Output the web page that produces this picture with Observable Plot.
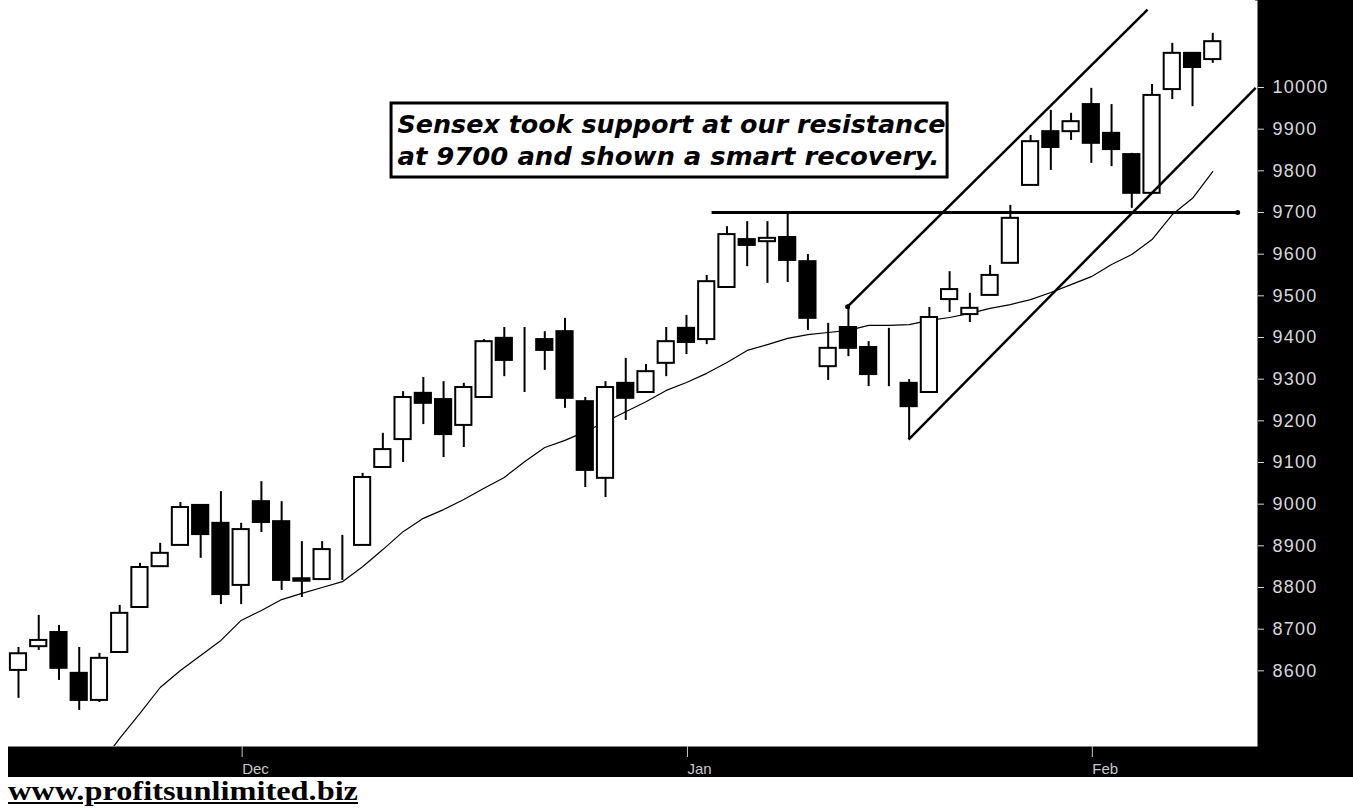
<!DOCTYPE html>
<html><head><meta charset="utf-8">
<script src="https://cdn.jsdelivr.net/npm/d3@7"></script>
<script src="https://cdn.jsdelivr.net/npm/@observablehq/plot@0.6"></script>
<style>
body{margin:0;background:#fff;width:1353px;height:811px;overflow:hidden;position:relative}
#panelR{position:absolute;left:1255px;top:0;width:98px;height:777px;background:#000}
#panelB{position:absolute;left:8px;top:745px;width:1345px;height:32px;background:#000}
#chart{position:absolute;left:0;top:0}
#footer{position:absolute;left:8px;top:777px;font:bold 28px "Liberation Serif",serif;line-height:28px;text-decoration:underline;color:#000;white-space:nowrap;transform-origin:left top}
</style></head>
<body><div id="panelR"></div><div id="panelB"></div><div id="chart"></div><div id="footer">www.profitsunlimited.biz</div>
<script>
// Daily Sensex candles (index = trading day)
const openV  = [8601,8658,8692,8594,8529,8644,8752,8850,8901,8997,8954,8805,9006,8958,8821,8819,8906,8901,9088,9155,
                9266,9251,9189,9256,9398,9345,9395,9414,9246,9062,9290,9268,9338,9422,9395,9520,9635,9630,9640,9582,
                9330,9424,9376,null,9290,9268,9491,9455,9501,9578,9765,9894,9894,9959,9890,9839,9746,9995,10082,10067];
const closeV = [8641,8673,8606,8529,8630,8738,8848,8882,8992,8927,8783,8939,8956,8817,8815,8891,8906,9064,9131,9256,
                9242,9167,9280,9390,9345,9345,9369,9254,9081,9280,9254,9318,9390,9388,9534,9647,9621,9638,9585,9446,
                9374,9374,9311,null,9234,9448,9515,9470,9549,9686,9870,9856,9918,9866,9851,9746,9981,10082,10048,10110];
const highV  = [8656,8733,8709,8656,8642,8757,8858,8906,9004,8997,9030,8954,9054,9006,8910,8910,8925,9074,9170,9270,
                9304,9294,9290,9395,9424,9424,9414,9446,9256,9294,9350,9335,9424,9453,9549,9666,9678,9678,9698,9599,
                9434,9474,9390,9422,9299,9472,9558,9506,9573,9717,9885,9945,9938,9998,9959,9842,10007,10106,10082,10130];
const lowV   = [8534,8649,8577,8505,8524,8644,8752,8850,8901,8870,8759,8759,8932,8793,8776,8819,8817,8901,9088,9100,
                9191,9112,9136,9256,9306,9268,9321,9230,9040,9016,9201,9268,9306,9359,9383,9520,9570,9530,9532,9417,
                9297,9354,9282,9282,9155,9268,9460,9436,9501,9578,9765,9801,9873,9818,9810,9710,9746,9971,9954,10058];
// moving average, starting at day index maStart
const maStart = 4;
const maV = [8373,8438,8498,8560,8601,8637,8673,8721,8745,8771,8786,8800,8814,8850,8891,8934,8966,8987,9011,9038,
             9064,9102,9136,9153,9174,9198,9222,9246,9273,9292,9314,9340,9369,9383,9398,9407,9412,9417,9429,9429,
             9431,9441,9448,9458,9470,9479,9491,9508,9527,9546,9575,9599,9635,9695,9734,9798];
const yTicks = [8600,8700,8800,8900,9000,9100,9200,9300,9400,9500,9600,9700,9800,9900,10000];
const monthIdx = [11,33,53];
const monthLabels = ["Dec","Jan","Feb"];
const resistance = [{x1:34.24, x2:60.23, level:9700}];
const channel = [
  {x1:40.96, y1:9474, x2:55.78, y2:10187},
  {x1:43.97, y1:9155, x2:61.12, y2:9999}
];
const lineDots = [{x:60.23, y:9700},{x:40.96, y:9474}];
const noteLines = ["Sensex took support at our resistance","at 9700 and shown a smart recovery."];
const noteY = [9909, 9832];
const noteBox = [{x1:18.43, x2:45.9, y1:9784, y2:9961.6}];

const candles = openV.map((o,i)=>({i, open:o, close:closeV[i], high:highV[i], low:lowV[i]}));
const up = candles.filter(d=>d.open!=null && d.close>=d.open);
const down = candles.filter(d=>d.open!=null && d.close<d.open);
const ma = maV.map((v,k)=>({i:k+maStart, v}));
const notes = noteLines.map((t,k)=>({t, y:noteY[k]}));
const hw = 0.4;

const chart = Plot.plot({
  width:1353, height:777,
  marginTop:0, marginRight:96, marginBottom:31, marginLeft:0,
  x:{domain:[-0.889, 61.21], label:null},
  y:{domain:[8418.4, 10208.8], label:null},
  style:{background:"transparent", fontFamily:"Liberation Sans, Arial, sans-serif"},
  marks:[
    Plot.frame({fill:"white", stroke:"none"}),
    Plot.line(ma, {x:"i", y:"v", stroke:"black", strokeWidth:1.2, clip:true}),
    Plot.ruleX(candles, {x:"i", y1:"low", y2:"high", stroke:"black", strokeWidth:2}),
    Plot.rect(up, {x1:d=>d.i-hw, x2:d=>d.i+hw, y1:"open", y2:"close", fill:"white", stroke:"black", strokeWidth:2}),
    Plot.rect(down, {x1:d=>d.i-hw, x2:d=>d.i+hw, y1:"open", y2:"close", fill:"black", stroke:"black", strokeWidth:2}),
    Plot.link(resistance, {x1:"x1", x2:"x2", y1:"level", y2:"level", stroke:"black", strokeWidth:3}),
    Plot.link(channel, {x1:"x1", x2:"x2", y1:"y1", y2:"y2", stroke:"black", strokeWidth:2.5}),
    Plot.dot(lineDots, {x:"x", y:"y", r:2.5, fill:"black"}),
    Plot.rect(noteBox, {x1:"x1", x2:"x2", y1:"y1", y2:"y2", fill:"white", stroke:"black", strokeWidth:3}),
    Plot.text(notes, {x:18.72, y:"y", text:"t", textAnchor:"start", fontSize:24, fontWeight:"bold", fontStyle:"italic",
      fontFamily:"DejaVu Sans, sans-serif", fill:"black"}),
    Plot.axisY(yTicks, {anchor:"right", tickSize:6, tickPadding:9, fontSize:18, color:"#d8d8d8",
      tickFormat:d=>String(d), label:null}),
    Plot.axisX(monthIdx, {anchor:"bottom", tickSize:11, tickPadding:6, textAnchor:"start", dx:1, fontSize:15, color:"#c8c8c8",
      tickFormat:d=>monthLabels[monthIdx.indexOf(d)], label:null})
  ]
});
document.getElementById("chart").appendChild(chart);
const lens = [548, 542];
const tickStr = yTicks.map(String);
chart.querySelectorAll('text').forEach(t=>{
  const k = noteLines.indexOf(t.textContent);
  if (k >= 0) {
    t.setAttribute("textLength", lens[k]);
    t.setAttribute("lengthAdjust", "spacingAndGlyphs");
  }
  if (tickStr.includes(t.textContent)) t.setAttribute("letter-spacing", "1.2");
});
const f = document.getElementById("footer");
const w = f.getBoundingClientRect().width;
f.style.transform = `scaleX(${350/w})`;
</script>
</body></html>
